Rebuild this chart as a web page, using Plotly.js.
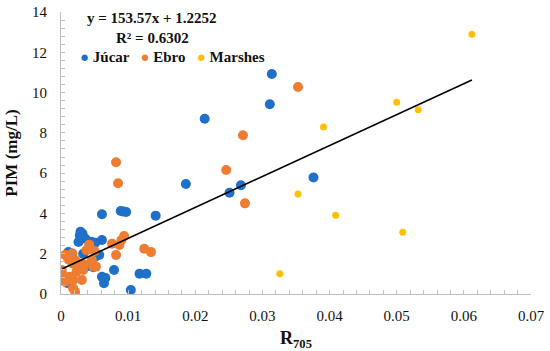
<!DOCTYPE html>
<html><head><meta charset="utf-8">
<script src="https://cdn.plot.ly/plotly-3.0.1.min.js"></script>
<style>html,body{margin:0;padding:0;background:#fff;}#chart{width:550px;height:351px;}</style>
</head><body><div id="chart"></div>
<script>
const jucarX = [0.0314,0.0311,0.0214,0.0186,0.0251,0.0268,0.0376,0.0141,0.0061,0.0089,0.0093,0.0097,0.0061,0.0051,0.0057,0.0079,0.0061,0.0066,0.0064,0.0117,0.0127,0.0104,0.0029,0.0032,0.0028,0.0031,0.0036,0.0026,0.0011,0.0033,0.0051,0.0042,0.0048,0.0016,0.0009,0.0045];
const jucarY = [10.92,9.42,8.70,5.46,5.03,5.40,5.78,3.89,3.96,4.12,4.09,4.07,2.68,2.55,1.94,1.19,0.86,0.80,0.53,1.01,1.01,0.20,3.09,3.00,2.90,2.80,2.75,2.58,2.08,2.00,1.85,1.39,1.33,0.61,0.55,2.60];
const ebroX = [0.0353,0.0271,0.0246,0.0274,0.0082,0.0085,0.0094,0.0090,0.0087,0.0076,0.0124,0.0134,0.0082,0.0052,0.0042,0.0038,0.0050,0.0046,0.0043,0.0021,0.0011,0.0028,0.0033,0.0023,0.0017,0.0003,0.0001,0.0006,0.0013,0.0018,0.0031,0.0018,0.0021,0.0017,0.0006,0.0031,0.0001,0.0048];
const ebroY = [10.28,7.88,6.16,4.50,6.54,5.50,2.88,2.68,2.43,2.50,2.25,2.08,1.94,1.36,2.45,2.18,2.13,1.69,1.52,1.69,1.72,1.36,1.19,1.11,1.52,0.94,0.70,0.61,0.86,0.70,0.70,0.28,0.11,2.02,1.94,1.52,1.19,1.36];
const marshX = [0.0326,0.0353,0.0391,0.0409,0.0500,0.0509,0.0532,0.0612];
const marshY = [1.01,4.97,8.29,3.91,9.52,3.06,9.15,12.89];
const seriesNames = ['Júcar','Ebro','Marshes'];
const seriesColors = ['#1f70c8','#ef7d31','#ffc000'];
const slope = 153.57, intercept = 1.2252;
const trendX = [0.0002, 0.0612];
const trendY = trendX.map(x => slope*x + intercept);
const xTickVals = [0,0.01,0.02,0.03,0.04,0.05,0.06,0.07];
const xTickText = ['0','0.01','0.02','0.03','0.04','0.05','0.06','0.07'];
const yTickVals = [0,2,4,6,8,10,12,14];
const yTickText = ['0','2','4','6','8','10','12','14'];

const serif = 'Liberation Serif';
const traces = [
  {x: jucarX, y: jucarY, name: seriesNames[0], type:'scatter', mode:'markers', marker:{color:seriesColors[0], size:10}},
  {x: ebroX, y: ebroY, name: seriesNames[1], type:'scatter', mode:'markers', marker:{color:seriesColors[1], size:10}},
  {x: marshX, y: marshY, name: seriesNames[2], type:'scatter', mode:'markers', marker:{color:seriesColors[2], size:7}},
  {x: trendX, y: trendY, type:'scatter', mode:'lines', line:{color:'#000', width:1.6}, showlegend:false}
];
const legendText = seriesNames.map((n,i)=>'<span style="color:'+seriesColors[i]+'">●</span> '+n).join('   ');
const axisCommon = {showgrid:false, zeroline:false, showline:true, linecolor:'#bfbfbf', linewidth:1,
  ticks:'inside', ticklen:4, tickcolor:'#bfbfbf', tickfont:{family:serif, size:15, color:'#111'}};
const layout = {
  width:550, height:351, margin:{l:61, r:19, t:12, b:57},
  paper_bgcolor:'#fff', plot_bgcolor:'#fff', showlegend:false,
  font:{family:serif},
  xaxis: Object.assign({}, axisCommon, {range:[0,0.07], tickmode:'array', tickvals:xTickVals, ticktext:xTickText,
    ticklabelstandoff:8,
    minor:{dtick:0.002, tick0:0, ticks:'inside', ticklen:4, tickcolor:'#bfbfbf'},
    title:{text:'<b>R<sub>705</sub></b>', font:{family:serif, size:18, color:'#111'}, standoff:8}}),
  yaxis: Object.assign({}, axisCommon, {range:[0,14], tickmode:'array', tickvals:yTickVals, ticktext:yTickText,
    ticklabelstandoff:10,
    minor:{dtick:0.4, tick0:0, ticks:'inside', ticklen:4, tickcolor:'#bfbfbf'},
    title:{text:'<b>PIM (mg/L)</b>', font:{family:serif, size:17, color:'#111'}, standoff:10}}),
  annotations:[
    {xref:'paper', yref:'paper', x:0.194, y:0.979, text:'<b>y = 153.57x + 1.2252</b>', showarrow:false, xanchor:'center', yanchor:'middle', font:{family:serif, size:15, color:'#111'}},
    {xref:'paper', yref:'paper', x:0.194, y:0.908, text:'<b>R² = 0.6302</b>', showarrow:false, xanchor:'center', yanchor:'middle', font:{family:serif, size:15, color:'#111'}},
    {xref:'paper', yref:'paper', x:0.036, y:0.840, text:'<b>'+legendText+'</b>', showarrow:false, xanchor:'left', yanchor:'middle', font:{family:serif, size:15, color:'#111'}}
  ]
};
Plotly.newPlot('chart', traces, layout, {displayModeBar:false, staticPlot:true});
</script></body></html>
